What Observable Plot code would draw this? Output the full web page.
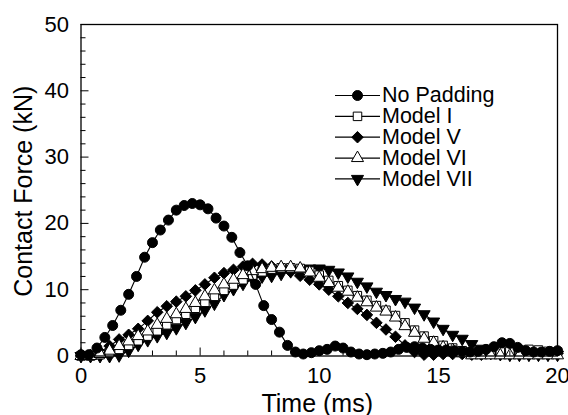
<!DOCTYPE html>
<html><head><meta charset="utf-8">
<script src="https://cdn.jsdelivr.net/npm/d3@7"></script>
<script src="https://cdn.jsdelivr.net/npm/@observablehq/plot@0.6"></script>
<style>body{margin:0;background:#fff;} #chart svg{display:block}</style>
</head><body><div id="chart"></div>
<script>
// ---- data ----
const timeNoPadding = [0,0.33,0.67,1,1.33,1.67,2,2.33,2.67,3,3.33,3.67,4,4.33,4.67,5,5.33,5.67,6,6.33,6.67,7,7.33,7.67,8,8.33,8.67,9,9.33,9.67,10,10.33,10.67,11,11.33,11.67,12,12.33,12.67,13,13.33,13.67,14,14.33,14.67,15,15.33,15.67,16,16.33,16.67,17,17.33,17.67,18,18.33,18.67,19,19.33,19.67,20];
const noPadding = [0.2,0.2,1.2,2.8,4.6,6.9,9.3,12.0,14.9,17.1,19.0,20.5,22.0,22.7,23.0,22.8,22.2,20.8,19.6,17.9,15.6,13.6,10.8,7.6,5.5,3.6,1.6,0.6,0.3,0.5,0.8,1.0,1.5,1.2,0.6,0.3,0.2,0.3,0.4,0.6,1.0,1.3,1.4,1.2,1.0,0.9,0.9,0.8,0.7,0.6,0.7,1.0,1.4,2.0,1.9,1.3,0.8,0.6,0.6,0.7,0.8];

const timeModel = [0,0.4,0.8,1.2,1.6,2,2.4,2.8,3.2,3.6,4,4.4,4.8,5.2,5.6,6,6.4,6.8,7.2,7.6,8,8.4,8.8,9.2,9.6,10,10.4,10.8,11.2,11.6,12,12.4,12.8,13.2,13.6,14,14.4,14.8,15.2,15.6,16,16.4,16.8,17.2,17.6,18,18.4,18.8,19.2,19.6,20];
const modelI   = [0,0,0.2,0.5,1.0,1.6,2.3,3.0,3.8,4.7,5.5,6.3,7.2,8.1,9.0,9.9,10.7,11.5,12.2,12.7,13.1,13.3,13.3,13.2,12.8,12.2,11.4,10.6,9.9,9.1,8.4,7.6,6.9,6.1,5.0,3.9,3.0,2.3,1.6,1.2,0.8,0.6,0.5,0.5,0.6,0.7,0.9,1.0,0.9,0.7,0.6];
const modelV   = [0,0.1,0.6,1.5,2.5,3.2,4.1,5.3,6.6,7.5,8.2,9.0,9.9,10.8,11.8,12.5,13.0,13.5,13.9,13.8,13.5,13.1,12.7,12.1,11.5,10.8,10.0,9.0,8.0,7.1,6.2,5.0,4.0,2.9,1.6,0.6,0.2,0.2,0.3,0.3,0.3,0.2,0.2,0.3,0.4,0.4,0.3,0.3,0.3,0.3,0.4];
const modelVI  = [0,0,0.3,0.8,1.5,2.2,3.0,3.7,4.7,5.6,6.3,7.1,8.0,9.0,9.9,10.8,11.5,12.2,12.8,13.1,13.3,13.4,13.4,13.2,12.6,11.8,11.0,10.3,9.7,8.8,8.1,7.3,6.7,5.8,4.5,3.5,2.6,2.0,1.3,0.9,0.4,0.1,0.1,0.1,0.1,0.1,0.1,0.1,0.1,0.1,0.1];
const modelVII = [0,0,0,0,0.1,0.8,1.7,2.4,3.0,3.5,4.2,5.0,5.9,6.9,7.9,9.2,10.1,10.9,11.6,12.0,12.1,12.4,12.8,13.1,13.2,13.2,13.0,12.6,12.0,11.2,10.5,9.7,9.2,8.6,8.2,7.3,6.3,5.2,4.1,3.2,2.6,1.8,1.1,0.6,0.3,0.2,0.2,0.2,0.2,0.2,0.2];

const seriesNames = ["No Padding", "Model I", "Model V", "Model VI", "Model VII"];
const xTicks = [0, 5, 10, 15, 20];
const xMinorTicks = [1,2,3,4,6,7,8,9,11,12,13,14,16,17,18,19];
const yTicks = [0, 10, 20, 30, 40, 50];
const yMinorTicks = [2,4,6,8,12,14,16,18,22,24,26,28,32,34,36,38,42,44,46,48];
const xLabel = "Time (ms)";
const yLabel = "Contact Force (kN)";

// ---- styling ----
const triangleDown = {draw(ctx, size) {
  const y = Math.sqrt(size / (3 * Math.sqrt(3)));
  ctx.moveTo(0, 2 * y); ctx.lineTo(-Math.sqrt(3) * y, -y); ctx.lineTo(Math.sqrt(3) * y, -y); ctx.closePath();
}};
const dash = {draw(ctx) { ctx.moveTo(-22.5, 0); ctx.lineTo(22.5, 0); }};

const series = [
  {name: seriesNames[0], t: timeNoPadding, v: noPadding, symbol: "circle",   fill: "black", r: 5},
  {name: seriesNames[1], t: timeModel,     v: modelI,    symbol: "square",   fill: "white", r: 4.8},
  {name: seriesNames[2], t: timeModel,     v: modelV,    symbol: "diamond2", fill: "black", r: 5.2},
  {name: seriesNames[3], t: timeModel,     v: modelVI,   symbol: "triangle", fill: "white", r: 4.5},
  {name: seriesNames[4], t: timeModel,     v: modelVII,  symbol: triangleDown, fill: "black", r: 4.5}
];
const drawOrder = [4, 2, 1, 3, 0];

const W = 568, H = 415, mL = 80.5, mR = 11, mT = 24, mB = 59.5;
const pw = W - mL - mR, ph = H - mT - mB;

const marks = [];
for (const i of drawOrder) {
  const s = series[i];
  const rows = s.t.map((t, k) => ({t, v: s.v[k]}));
  marks.push(Plot.line(rows, {x: "t", y: "v", stroke: "black", strokeWidth: 1.1}));
  marks.push(Plot.dot(rows, {x: "t", y: "v", symbol: s.symbol, r: s.r, fill: s.fill, stroke: "black", strokeWidth: 1}));
}
// legend
series.forEach((s, i) => {
  const dy = 71 + 20.85 * i;
  marks.push(Plot.dot([s.name], {frameAnchor: "top-left", dx: 276.5, dy, symbol: dash, r: 5, stroke: "black", strokeWidth: 1.2, fill: "none"}));
  marks.push(Plot.dot([s.name], {frameAnchor: "top-left", dx: 276.5, dy, symbol: s.symbol, r: s.r, fill: s.fill, stroke: "black", strokeWidth: 1}));
  marks.push(Plot.text([s.name], {text: d => d, frameAnchor: "top-left", dx: 301, dy, textAnchor: "start", lineAnchor: "middle", fontSize: 21.5, fill: "black"}));
});

const chart = Plot.plot({
  width: W, height: H,
  marginLeft: mL, marginRight: mR, marginTop: mT, marginBottom: mB,
  style: {fontFamily: "'Liberation Sans', Arial, Helvetica, sans-serif", background: "white", color: "black"},
  x: {domain: [0, 20]},
  y: {domain: [0, 50]},
  marks: [
    ...marks,
    Plot.tickY(yTicks, {y: d => d, insetRight: pw - 8, stroke: "black", strokeWidth: 1}),
    Plot.tickY(yMinorTicks, {y: d => d, insetRight: pw - 5, stroke: "black", strokeWidth: 1}),
    Plot.tickX(xTicks, {x: d => d, insetTop: ph - 8, stroke: "black", strokeWidth: 1}),
    Plot.tickX(xMinorTicks, {x: d => d, insetTop: ph - 5, stroke: "black", strokeWidth: 1}),
    Plot.frame({stroke: "black", strokeWidth: 1.3}),
    Plot.axisY(yTicks, {tickSize: 0, tickPadding: 12, fontSize: 22, label: null}),
    Plot.axisX(xTicks, {tickSize: 0, tickPadding: 11, fontSize: 22, label: null}),
    Plot.text([yLabel], {text: d => d, frameAnchor: "left", dx: -57.5, dy: 1, rotate: -90, textAnchor: "middle", lineAnchor: "middle", fontSize: 25, fill: "black"}),
    Plot.text([xLabel], {text: d => d, frameAnchor: "bottom", dx: -2, dy: 47.5, textAnchor: "middle", lineAnchor: "middle", fontSize: 25, fill: "black"})
  ]
});
document.getElementById("chart").appendChild(chart);
</script>
</body></html>
